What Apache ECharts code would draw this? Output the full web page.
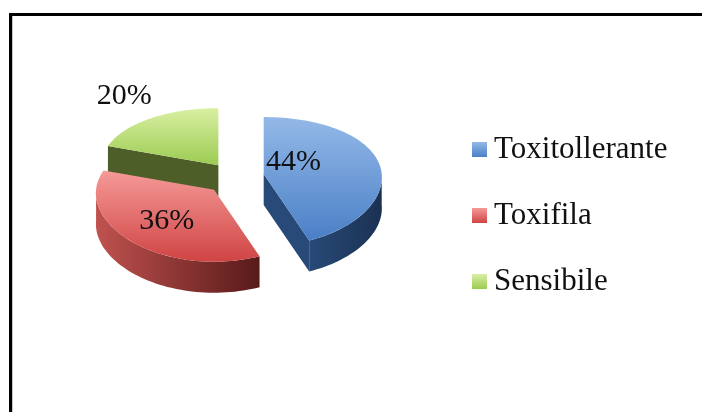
<!DOCTYPE html>
<html>
<head>
<meta charset="utf-8">
<script src="https://cdn.jsdelivr.net/npm/echarts@6/dist/echarts.min.js"></script>
<style>
  html, body { margin: 0; padding: 0; background: #fff; }
  #chart { width: 702px; height: 412px; }
</style>
</head>
<body>
<div id="chart"></div>
<script>
// data
const categories = ['Toxitollerante', 'Toxifila', 'Sensibile']
const values = [44, 36, 20]

// colours: [top light, top dark, wall light, wall dark]
const palette = [
  ['#94b9e8', '#4a7fc6', '#284a78', '#1b3152'],
  ['#f59a98', '#cf4443', '#c0524f', '#581a19'],
  ['#d9efa2', '#9ccb52', '#4e5e29', '#44521f']
]
// label spots per slice: [angle, radius as fraction of slice radius]
const labelSpots = [[52, 0.33], [221, 0.59], [325, 1.45]]

// 3d pie look (front half a bit bigger, like a perspective view)
const CX = 235, CY = 177
const RX = 118, RX_TILT = 6
const RY = 64.5, RY_TILT = 7.5
const DEPTH = 31
const EXPLODE = 0.25

const total = values.reduce((a, b) => a + b, 0)
let acc = 0
const starts = values.map(v => { let s = acc; acc += v / total * 360; return s })

function pt(cx, cy, deg, r, dz) {
  let t = deg * Math.PI / 180
  let c = Math.cos(t)
  let rx = RX - RX_TILT * c, ry = RY - RY_TILT * c
  return [cx + rx * r * Math.sin(t), cy - ry * r * c + (dz || 0)]
}
function arc(cx, cy, a0, a1, dz) {
  let pts = []
  let n = Math.max(2, Math.ceil((a1 - a0) / 2))
  for (let k = 0; k <= n; k++) pts.push(pt(cx, cy, a0 + (a1 - a0) * k / n, 1, dz))
  return pts
}
function lin(x0, y0, x1, y1, c0, c1) {
  return new echarts.graphic.LinearGradient(x0, y0, x1, y1, [
    { offset: 0, color: c0 }, { offset: 1, color: c1 }
  ])
}

function renderSlice(i) {
  return function (params, api) {
    let v = api.value(0)
    let a0 = starts[i]
    let a1 = a0 + v / total * 360
    let mid = (a0 + a1) / 2
    let c = pt(CX, CY, mid, EXPLODE)
    let cx = c[0], cy = c[1]
    let col = palette[i]
    let children = []

    // radial cut faces facing the viewer
    ;[[a0, a0 - 90], [a1, a1 + 90]].forEach(f => {
      if (Math.cos(f[1] * Math.PI / 180) < -0.05) {
        let rim = pt(cx, cy, f[0], 1)
        children.push({
          type: 'polygon',
          shape: { points: [[cx, cy], rim, [rim[0], rim[1] + DEPTH], [cx, cy + DEPTH]] },
          style: { fill: col[2] }
        })
      }
    })

    // outer wall on the front half
    let w0 = Math.max(a0, 90), w1 = Math.min(a1, 270)
    if (w1 > w0) {
      let top = arc(cx, cy, w0, w1, 0)
      let bot = arc(cx, cy, w0, w1, DEPTH).reverse()
      children.push({
        type: 'polygon',
        shape: { points: top.concat(bot) },
        style: { fill: lin(0, 0, 1, 0, col[2], col[3]) }
      })
    }

    // top face
    children.push({
      type: 'polygon',
      shape: { points: [[cx, cy]].concat(arc(cx, cy, a0, a1, 0)) },
      style: { fill: lin(0, 0, 0, 1, col[0], col[1]) }
    })

    // percent label
    let lp = pt(cx, cy, labelSpots[i][0], labelSpots[i][1])
    children.push({
      type: 'text',
      style: {
        text: Math.round(v / total * 100) + '%',
        x: lp[0], y: lp[1],
        fill: '#111',
        fontSize: 30,
        fontFamily: '"Liberation Serif", serif',
        align: 'center',
        verticalAlign: 'middle'
      }
    })

    return { type: 'group', children: children }
  }
}

const drawZ = [2, 3, 1]

let chart = echarts.init(document.getElementById('chart'), null, { renderer: 'canvas' })
chart.setOption({
  animation: false,
  backgroundColor: '#fff',
  legend: {
    orient: 'vertical',
    left: 472,
    top: 134,
    padding: 0,
    icon: 'rect',
    itemWidth: 15,
    itemHeight: 15,
    itemGap: 35,
    selectedMode: false,
    data: categories,
    textStyle: {
      fontSize: 31,
      fontFamily: '"Liberation Serif", serif',
      color: '#111',
      padding: [0, 0, 0, 2]
    }
  },
  graphic: [
    { type: 'rect', shape: { x: 10.5, y: 14.5, width: 800, height: 500 },
      style: { fill: 'none', stroke: '#000', lineWidth: 3 }, z: 10 },
    { type: 'line', shape: { x1: 12.5, y1: 16, x2: 12.5, y2: 412 },
      style: { stroke: '#c8c8c8', lineWidth: 1 }, z: 10 }
  ],
  series: categories.map((name, i) => ({
    type: 'custom',
    name: name,
    coordinateSystem: 'none',
    z: drawZ[i],
    silent: true,
    itemStyle: { color: lin(0, 0, 0, 1, palette[i][0], palette[i][1]) },
    renderItem: renderSlice(i),
    data: [[values[i]]]
  }))
})
</script>
</body>
</html>
